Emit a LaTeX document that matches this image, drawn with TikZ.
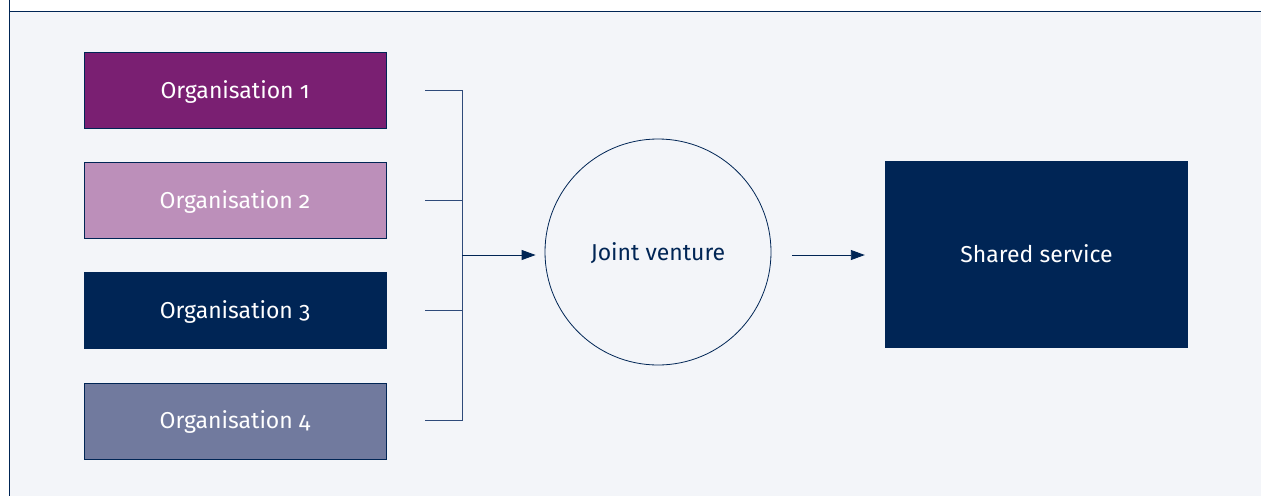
\documentclass[tikz,border=0pt]{standalone}
\usepackage{fontspec}
\setmainfont{Fira Sans}[Numbers=OldStyle]
\usetikzlibrary{positioning,arrows.meta}

\definecolor{navy}{HTML}{002555}
\definecolor{plum}{HTML}{7A1F72}
\definecolor{lilac}{HTML}{BC8FBA}
\definecolor{slate}{HTML}{717A9E}
\definecolor{paper}{HTML}{F3F5F9}
\definecolor{wire}{HTML}{2E4A7A}

\begin{document}
\begin{tikzpicture}[x=1pt,y=-1pt,
  font=\fontsize{23}{27}\selectfont,
  every node/.style={text height=16pt,text depth=0pt},
  org/.style={draw=navy,line width=0.8pt,minimum width=302pt,minimum height=76pt,text=white,inner sep=0pt},
  link/.style={draw=wire,line width=0.9pt},
  arr/.style={-{Triangle[length=14pt,width=10pt]},draw=navy,line width=0.9pt}]
\useasboundingbox (0,0) rectangle (1261,496);
\fill[white] (0,0) rectangle (1261,496);
\fill[paper] (9,11) rectangle (1261,496);
\draw[navy,line width=1pt] (9,0) -- (9,496);
\draw[navy,line width=1pt] (9,11) -- (1261,11);

\node[org,fill=plum] (org1) at (235,90) {Organisation 1};
\node[org,fill=lilac,below=33.5pt of org1] (org2) {Organisation 2};
\node[org,fill=navy,below=33.5pt of org2] (org3) {Organisation 3};
\node[org,fill=slate,below=33.5pt of org3] (org4) {Organisation 4};

\node[circle,draw=navy,line width=0.8pt,minimum size=226pt,text=navy] (jv) at (658,252) {Joint venture};
\node[fill=navy,minimum width=303pt,minimum height=187pt,text=white] (ss) at (1036.5,254.5) {Shared service};

\coordinate (bar) at (462,255);
\draw[link] ([xshift=39pt]org1.east) -| (bar |- org1) -- (bar |- org4) -- ([xshift=39pt]org4.east);
\draw[link] ([xshift=39pt]org2.east) -- (bar |- org2);
\draw[link] ([xshift=39pt]org3.east) -- (bar |- org3);

\draw[arr] (bar) -- ([xshift=-9pt]jv.west |- bar);
\draw[arr] ([xshift=21pt]jv.east |- bar) -- ([xshift=-20pt]ss.west |- bar);
\end{tikzpicture}
\end{document}
